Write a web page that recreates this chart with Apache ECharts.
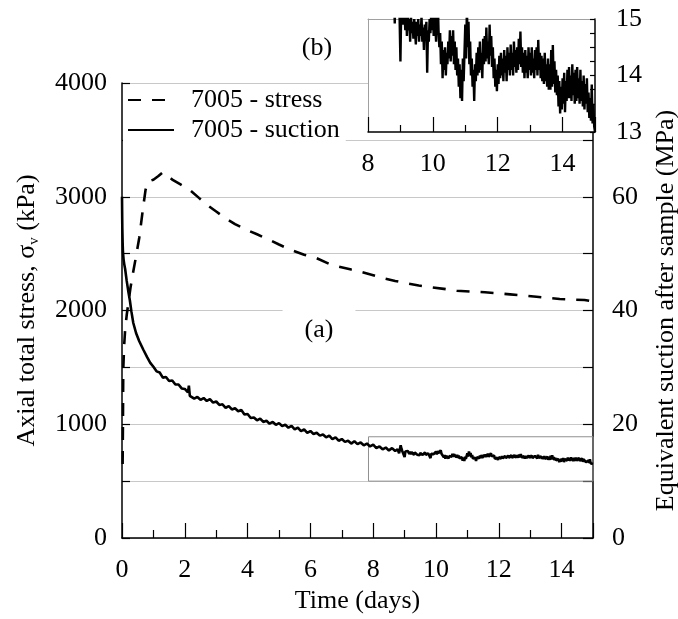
<!DOCTYPE html>
<html>
<head>
<meta charset="utf-8">
<script src="https://cdn.jsdelivr.net/npm/echarts@6/dist/echarts.min.js"></script>
<style>
html,body{margin:0;padding:0;background:#fff;}
#chart{width:678px;height:619px;}
</style>
</head>
<body>
<div id="chart"></div>
<script>
// ---------- data ----------
var stressDays = [0.02,0.03,0.04,0.07,0.10,0.15,0.20,0.27,0.35,0.45,0.55,0.67,0.75,0.82,0.90,1.00,1.15,1.30,1.45,1.60,1.85,2.16,2.45,2.70,3.00,3.30,3.60,3.96,4.30,4.70,5.00,5.40,5.80,6.20,6.60,6.91,7.30,7.60,8.00,8.34,8.70,9.07,9.45,9.86,10.25,10.66,11.10,11.56,12.00,12.36,12.80,13.20,13.60,13.94,14.35,14.73,15.00];
var stressKPa = [650,1000,1480,1700,1830,1960,2060,2200,2330,2480,2640,2900,3060,3130,3140,3150,3180,3215,3190,3150,3110,3060,2990,2930,2870,2810,2760,2710,2670,2620,2580,2530,2490,2460,2410,2385,2360,2341,2310,2283,2260,2239,2220,2204,2190,2174,2167,2160,2150,2142,2132,2121,2110,2101,2096,2092,2080];

// suction: early part
var suctionDays = [0.00,0.005,0.01,0.02,0.03,0.05,0.07,0.10,0.15,0.20,0.25,0.30,0.36,0.45,0.55,0.68,0.80,0.90,
  1.0,1.1,1.2,1.3,1.4,1.5,1.6,1.7,1.8,1.9,2.0,2.1,2.13,2.16,2.2,2.3,2.4,2.5,2.6,2.7,2.8,2.9,
  3.0,3.1,3.2,3.3,3.4,3.5,3.6,3.7,3.8,3.9,4.0,4.1,4.2,4.3,4.4,4.5,4.6,4.7,4.8,4.9,
  5.0,5.1,5.2,5.3,5.4,5.5,5.6,5.7,5.8,5.9,6.0,6.1,6.2,6.3,6.4,6.5,6.6,6.7,6.8,6.9,
  7.0,7.1,7.2,7.3,7.4,7.5,7.6,7.7,7.8,7.9,8.0,8.1,8.2,8.3,8.4,8.5,8.6,8.7,8.775];
var suctionMPa = [60.0,57.0,54.5,52.0,50.3,49.0,48.2,47.3,45.2,43.4,41.8,39.8,37.8,36.0,34.6,33.1,31.8,30.8,
  30.1,29.3,29.1,28.2,28.3,27.6,27.7,27.0,27.0,26.3,26.2,25.6,26.8,25.0,24.9,24.5,24.8,24.3,24.6,24.1,24.4,23.8,
  24.0,23.4,23.5,22.9,23.2,22.6,22.8,22.3,22.5,21.7,21.8,21.1,21.2,20.7,21.0,20.4,20.6,20.1,20.4,19.9,
  20.2,19.7,19.9,19.4,19.7,19.1,19.4,18.8,19.1,18.5,18.8,18.3,18.5,18.0,18.2,17.7,18.0,17.4,17.7,17.1,
  17.4,16.9,17.1,16.6,17.0,16.5,16.8,16.3,16.6,16.1,16.4,15.8,16.1,15.6,15.9,15.4,15.8,15.3,15.6];

// suction: dense logged part (rows of 0.2 day)
var suctionDenseDays = [
  8.800,8.825,8.850,8.875,8.900,8.925,8.950,8.975,
  9.000,9.025,9.050,9.075,9.100,9.125,9.150,9.175,
  9.200,9.225,9.250,9.275,9.300,9.325,9.350,9.375,
  9.400,9.425,9.450,9.475,9.500,9.525,9.550,9.575,
  9.600,9.625,9.650,9.675,9.700,9.725,9.750,9.775,
  9.800,9.825,9.850,9.875,9.900,9.925,9.950,9.975,
  10.000,10.025,10.050,10.075,10.100,10.125,10.150,10.175,
  10.200,10.225,10.250,10.275,10.300,10.325,10.350,10.375,
  10.400,10.425,10.450,10.475,10.500,10.525,10.550,10.575,
  10.600,10.625,10.650,10.675,10.700,10.725,10.750,10.775,
  10.800,10.825,10.850,10.875,10.900,10.925,10.950,10.975,
  11.000,11.025,11.050,11.075,11.100,11.125,11.150,11.175,
  11.200,11.225,11.250,11.275,11.300,11.325,11.350,11.375,
  11.400,11.425,11.450,11.475,11.500,11.525,11.550,11.575,
  11.600,11.625,11.650,11.675,11.700,11.725,11.750,11.775,
  11.800,11.825,11.850,11.875,11.900,11.925,11.950,11.975,
  12.000,12.025,12.050,12.075,12.100,12.125,12.150,12.175,
  12.200,12.225,12.250,12.275,12.300,12.325,12.350,12.375,
  12.400,12.425,12.450,12.475,12.500,12.525,12.550,12.575,
  12.600,12.625,12.650,12.675,12.700,12.725,12.750,12.775,
  12.800,12.825,12.850,12.875,12.900,12.925,12.950,12.975,
  13.000,13.025,13.050,13.075,13.100,13.125,13.150,13.175,
  13.200,13.225,13.250,13.275,13.300,13.325,13.350,13.375,
  13.400,13.425,13.450,13.475,13.500,13.525,13.550,13.575,
  13.600,13.625,13.650,13.675,13.700,13.725,13.750,13.775,
  13.800,13.825,13.850,13.875,13.900,13.925,13.950,13.975,
  14.000,14.025,14.050,14.075,14.100,14.125,14.150,14.175,
  14.200,14.225,14.250,14.275,14.300,14.325,14.350,14.375,
  14.400,14.425,14.450,14.475,14.500,14.525,14.550,14.575,
  14.600,14.625,14.650,14.675,14.700,14.725,14.750,14.775,
  14.800,14.825,14.850,14.875,14.900,14.925,14.950,14.975,
  15.000];
var suctionDenseMPa = [
  15.5,14.92,15.6,16.3,15.7,15.3,15.5,15.0,
  14.25,15.2,15.4,14.9,15.3,15.1,14.8,15.2,
  14.7,15.1,14.8,15.0,14.6,15.05,14.75,14.95,
  14.65,15.0,14.8,14.55,14.95,14.7,15.0,14.6,
  14.9,14.7,15.05,14.6,14.85,14.45,14.9,14.7,
  14.95,14.05,14.8,14.6,15.0,14.75,15.1,14.8,
  15.2,14.7,15.3,14.9,14.6,15.1,15.4,14.8,
  14.5,14.75,14.2,14.6,13.95,14.45,14.1,14.5,
  14.0,14.4,14.2,14.6,14.3,14.8,14.25,14.7,
  14.35,14.8,14.2,14.6,14.1,14.5,14.0,14.3,
  13.8,14.2,13.6,14.1,13.55,14.3,13.9,14.4,
  14.9,14.3,15.2,14.5,14.95,14.2,14.6,14.0,
  14.3,13.8,14.1,13.55,14.2,13.9,14.4,14.0,
  14.5,14.05,14.6,14.1,14.4,13.95,14.65,14.2,
  14.7,14.25,14.85,14.3,14.6,14.2,14.9,14.35,
  14.7,14.15,14.5,13.95,14.3,13.8,14.1,13.72,
  14.2,13.85,14.35,13.95,14.4,14.0,14.3,13.9,
  14.45,14.05,14.35,13.9,14.5,14.1,14.4,14.0,
  14.55,14.1,14.4,14.0,14.6,14.15,14.45,14.05,
  14.5,14.1,14.65,14.2,14.78,14.15,14.5,14.05,
  14.4,13.95,14.45,14.05,14.35,13.95,14.5,14.1,
  14.4,14.0,14.5,14.05,14.3,13.95,14.45,14.1,
  14.5,14.0,14.63,14.1,14.4,13.95,14.35,13.9,
  14.3,13.85,14.4,13.9,14.2,13.8,14.3,13.75,
  14.2,13.75,14.45,13.8,14.54,13.85,14.25,13.7,
  14.1,13.65,14.0,13.45,13.9,13.33,13.8,13.4,
  13.95,13.5,14.05,13.35,13.9,13.55,14.1,13.6,
  14.15,13.6,14.0,13.55,14.2,13.65,14.05,13.5,
  14.1,13.55,14.15,13.6,13.95,13.5,14.1,13.55,
  13.9,13.45,14.0,13.4,13.85,13.5,13.95,13.35,
  13.7,13.25,13.6,13.2,13.84,13.15,13.5,13.1,
  13.0];

var xTicksMain = {min: 0, max: 15, interval: 2};
var xTicksInset = {min: 8, max: 15, interval: 2};
var stressAxis = {min: 0, max: 4000, interval: 500};
var suctionAxis = {min: 0, max: 80, interval: 10};
var insetAxis = {min: 13, max: 15, interval: 1};
var zoomBox = {x0: 7.85, x1: 15, y0: 10, y1: 17.8};

// ---------- build ----------
function pairs(a, b) { var r = []; for (var i = 0; i < a.length; i++) r.push([a[i], b[i]]); return r; }
var stressData = pairs(stressDays, stressKPa);
var suctionData = pairs(suctionDays, suctionMPa).concat(pairs(suctionDenseDays, suctionDenseMPa));

var FF = 'Liberation Serif';
var FS = 26;
var black = '#000';
var grey = '#c8c8c8';

var chart = echarts.init(document.getElementById('chart'), null, {renderer: 'canvas'});
chart.setOption({
  animation: false,
  backgroundColor: '#fff',
  textStyle: {fontFamily: FF, color: black},
  grid: [
    {left: 122, right: 85, top: 83, bottom: 81, containLabel: false, outerBoundsMode: 'none'},
    {left: 368, right: 83, top: 19, bottom: 487, containLabel: false, outerBoundsMode: 'none',
     show: true, backgroundColor: '#fff', borderWidth: 0, z: 3}
  ],
  legend: {
    data: ['7005 - stress', '7005 - suction'],
    orient: 'vertical', left: 123, top: 85,
    itemWidth: 46, itemHeight: 14, itemGap: 4,
    backgroundColor: '#fff', padding: [2, 6, 8, 4],
    itemStyle: {opacity: 0, color: 'rgba(0,0,0,0)', borderWidth: 0},
    textStyle: {fontFamily: FF, fontSize: FS, color: black, padding: [0, 0, 0, 12]},
    z: 6
  },
  xAxis: [
    {type: 'value', gridIndex: 0, min: xTicksMain.min, max: xTicksMain.max, interval: xTicksMain.interval,
     axisLine: {lineStyle: {color: black, width: 1.5}},
     axisTick: {inside: true, length: 15, lineStyle: {color: black, width: 1.2}},
     minorTick: {show: true, splitNumber: 2, length: 8, lineStyle: {color: black, width: 1.2}},
     axisLabel: {fontFamily: FF, fontSize: FS, color: black, margin: 19, showMaxLabel: false},
     splitLine: {show: false},
     name: 'Time (days)', nameLocation: 'middle', nameGap: 50,
     nameTextStyle: {fontFamily: FF, fontSize: FS, color: black}},
    {type: 'value', gridIndex: 1, min: xTicksInset.min, max: xTicksInset.max, interval: xTicksInset.interval, z: 4,
     axisLine: {lineStyle: {color: black, width: 1.5}},
     axisTick: {inside: true, length: 15, lineStyle: {color: black, width: 1.2}},
     minorTick: {show: true, splitNumber: 2, length: 7, lineStyle: {color: black, width: 1.2}},
     axisLabel: {fontFamily: FF, fontSize: FS, color: black, margin: 19, showMaxLabel: false},
     splitLine: {show: false}},
    {type: 'value', gridIndex: 1, position: 'top', min: xTicksInset.min, max: xTicksInset.max, z: 4,
     axisLine: {lineStyle: {color: '#a0a0a0', width: 1}},
     axisTick: {show: false}, axisLabel: {show: false}, splitLine: {show: false}}
  ],
  yAxis: [
    {type: 'value', gridIndex: 0, min: stressAxis.min, max: stressAxis.max, interval: stressAxis.interval,
     axisLine: {show: true, lineStyle: {color: black, width: 1.5}},
     axisTick: {show: true, inside: true, length: 8, lineStyle: {color: black, width: 1.2}},
     axisLabel: {fontFamily: FF, fontSize: FS, color: black, margin: 15,
                 formatter: function (v) { return v % 1000 === 0 ? String(v) : ''; }},
     splitLine: {show: true, lineStyle: {color: grey, width: 1}},
     name: 'Axial total stress, σ{s|v} (kPa)', nameLocation: 'middle', nameGap: 80,
     nameTextStyle: {fontFamily: FF, fontSize: FS, color: black, lineHeight: 30,
       rich: {s: {fontFamily: FF, fontSize: 15, lineHeight: 15, verticalAlign: 'bottom', color: black}}}},
    {type: 'value', gridIndex: 0, position: 'right', min: suctionAxis.min, max: suctionAxis.max, interval: suctionAxis.interval,
     axisLine: {show: true, lineStyle: {color: black, width: 1.5}},
     axisTick: {show: true, inside: true, length: 10, lineStyle: {color: black, width: 1.2}},
     axisLabel: {fontFamily: FF, fontSize: FS, color: black, margin: 19,
                 formatter: function (v) { return (v % 20 === 0 && v < 80) ? String(v) : ''; }},
     splitLine: {show: false},
     name: 'Equivalent suction after sample (MPa)', nameLocation: 'middle', nameGap: 60,
     nameTextStyle: {fontFamily: FF, fontSize: FS, color: black}},
    {type: 'value', gridIndex: 1, position: 'right', min: insetAxis.min, max: insetAxis.max, interval: insetAxis.interval, z: 4,
     axisLine: {show: true, lineStyle: {color: black, width: 1.5}},
     axisTick: {show: true, inside: true, length: 5, lineStyle: {color: black, width: 1.2}},
     minorTick: {show: true, splitNumber: 4, length: 5, lineStyle: {color: black, width: 1.2}},
     axisLabel: {fontFamily: FF, fontSize: FS, color: black, margin: 21},
     splitLine: {show: false}},
    {type: 'value', gridIndex: 1, position: 'left', min: insetAxis.min, max: insetAxis.max, z: 4,
     axisLine: {show: true, lineStyle: {color: '#a0a0a0', width: 1}},
     axisTick: {show: false}, axisLabel: {show: false}, splitLine: {show: false}}
  ],
  series: [
    {name: '7005 - stress', type: 'line', xAxisIndex: 0, yAxisIndex: 0, data: stressData,
     showSymbol: false, symbol: 'none', smooth: false,
     lineStyle: {color: black, width: 2.6, type: [13, 11], dashOffset: 0}, itemStyle: {color: black}, z: 2},
    {name: '7005 - suction', type: 'line', xAxisIndex: 0, yAxisIndex: 1, data: suctionData,
     showSymbol: false, symbol: 'none',
     lineStyle: {color: black, width: 2.6}, itemStyle: {color: black}, z: 2,
     markArea: {silent: true, itemStyle: {color: 'rgba(0,0,0,0)', borderColor: '#909090', borderWidth: 1},
       data: [[{xAxis: zoomBox.x0, yAxis: zoomBox.y0}, {xAxis: zoomBox.x1, yAxis: zoomBox.y1}]]}},
    {name: 'inset suction', type: 'line', xAxisIndex: 1, yAxisIndex: 2, data: suctionData,
     showSymbol: false, symbol: 'none', clip: true,
     lineStyle: {color: black, width: 2.4}, itemStyle: {color: black}, z: 5}
  ],
  graphic: [
    {type: 'text', x: 319, y: 330, z: 10,
     style: {text: '(a)', font: FS + 'px "' + FF + '"', fill: black, align: 'center', verticalAlign: 'middle',
             backgroundColor: '#fff', padding: [12, 22]}},
    {type: 'text', x: 317, y: 48, z: 10,
     style: {text: '(b)', font: FS + 'px "' + FF + '"', fill: black, align: 'center', verticalAlign: 'middle'}}
  ]
});
</script>
</body>
</html>
